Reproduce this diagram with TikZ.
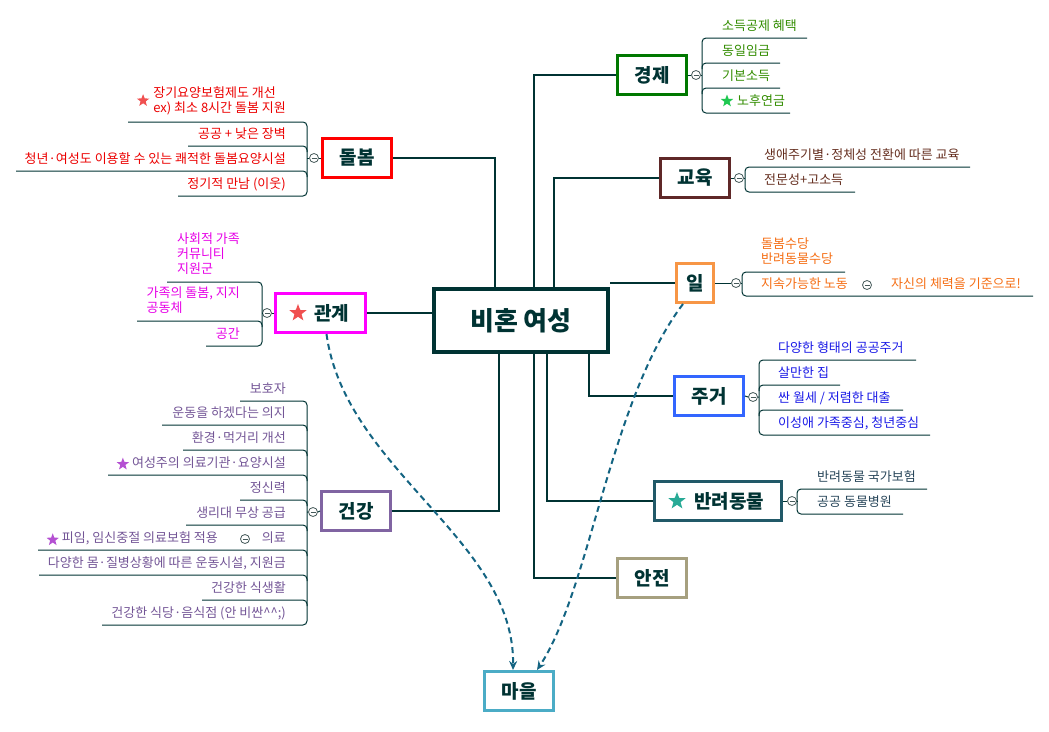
\documentclass[tikz,border=0pt]{standalone}
\usepackage{fontspec}
\setmainfont{Noto Sans CJK KR}
\usetikzlibrary{arrows.meta,shapes.geometric}
\definecolor{linkc}{RGB}{0,51,51}
\definecolor{foldc}{RGB}{70,90,90}
\definecolor{relc}{RGB}{20,100,130}
\definecolor{dolc}{RGB}{255,0,0}
\definecolor{dolt}{RGB}{235,0,0}
\definecolor{gwac}{RGB}{255,0,255}
\definecolor{gwat}{RGB}{230,0,230}
\definecolor{geoc}{RGB}{128,100,162}
\definecolor{geot}{RGB}{115,85,150}
\definecolor{gyec}{RGB}{0,120,0}
\definecolor{gyet}{RGB}{50,140,0}
\definecolor{gyoc}{RGB}{95,40,40}
\definecolor{gyot}{RGB}{100,45,30}
\definecolor{ilc}{RGB}{247,150,70}
\definecolor{ilt}{RGB}{245,110,20}
\definecolor{juc}{RGB}{51,102,255}
\definecolor{jut}{RGB}{25,25,230}
\definecolor{banc}{RGB}{33,89,104}
\definecolor{bant}{RGB}{40,70,90}
\definecolor{anc}{RGB}{166,160,127}
\definecolor{mac}{RGB}{75,172,198}
\definecolor{starr}{RGB}{240,80,80}
\definecolor{starp}{RGB}{180,80,210}
\definecolor{starg}{RGB}{30,200,80}
\definecolor{start}{RGB}{40,170,150}

\begin{document}
\begin{tikzpicture}[x=1pt, y=-1pt, >=Stealth,
  root/.style={draw=linkc, line width=4.5pt, fill=white, text=linkc,
    minimum width=174, minimum height=63, inner sep=0,
    font=\bfseries\fontsize{26}{28}\selectfont},
  topic/.style={line width=3pt, fill=white, text=linkc,
    minimum width=69, minimum height=39, inner sep=0,
    font=\bfseries\fontsize{19}{21}\selectfont},
  sub/.style={inner sep=0, font=\fontsize{13}{15}\selectfont},
  link/.style={draw=linkc, line width=2pt},
  twig/.style={draw=linkc, line width=1pt},
  branch/.style={draw=linkc, line width=1pt, rounded corners=4pt},
  foldmark/.style={circle, draw=foldc, fill=white, line width=0.8pt,
    minimum size=9pt, inner sep=0,
    path picture={\draw[foldc, line width=0.8pt]
      ([xshift=-2.5pt]path picture bounding box.center) --
      ([xshift=2.5pt]path picture bounding box.center);}},
  starmark/.style={star, star points=5, star point ratio=2.4,
    minimum size=13pt, inner sep=0},
  rel/.style={draw=relc, line width=2pt, dash pattern=on 6pt off 4pt,
    -{Stealth[length=9pt, width=8pt]}}]

\useasboundingbox (0,0) rectangle (1049,731);

% Gadi
\node[root] (root) at (521,320.5) {비혼 여성};
\node[topic, draw=dolc] (dolbom) at (357,158) {돌봄};
\node[topic, draw=gwac, minimum width=90] (gwangye) at (320.5,313) {\hspace*{22pt}관계};
\node[starmark, fill=starr, minimum size=18pt] (gwastar) at (298,313) {};
\node[topic, draw=geoc] (geongang) at (356,511) {건강};
\node[topic, draw=gyec] (gyeongje) at (652,75) {경제};
\node[topic, draw=gyoc] (gyoyuk) at (695,178) {교육};
\node[topic, draw=ilc, minimum width=37] (il) at (695,283) {일};
\node[topic, draw=juc] (jugeo) at (709,396) {주거};
\node[topic, draw=banc, minimum width=127] (banryeo) at (718,501) {\hspace*{22pt}반려동물};
\node[starmark, fill=start, minimum size=18pt] (banstar) at (677,501) {};
\node[topic, draw=anc] (anjeon) at (652,578) {안전};
\node[topic, draw=mac] (maeul) at (519,691) {마을};

% Gajimok
\draw[link] (dolbom.east) -| ([xshift=-26pt]root.north);
\draw[link] ([xshift=13pt]root.north) |- (gyeongje.west);
\draw[link] ([xshift=33pt]root.north) |- (gyoyuk.west);
\draw[link] (root.north east |- il.west) -- (il.west);
\draw[link] (root.west |- gwangye.east) -- (gwangye.east);
\draw[link] ([xshift=-22pt]root.south) |- (geongang.east);
\draw[link] ([xshift=13pt]root.south) |- (anjeon.west);
\draw[link] ([xshift=26pt]root.south) |- (banryeo.west);
\draw[link] ([xshift=68pt]root.south) |- (jugeo.west);

% Gwangye -> Maeul, Il -> Maeul
\draw[rel] ([xshift=6pt]gwangye.south) .. controls (345,470) and (515,540) .. ([xshift=-6pt]maeul.north);
\draw[rel] ([xshift=-12pt]il.south) .. controls (610,400) and (590,590) .. ([xshift=18pt]maeul.north);

% Dolbom
\node[foldmark] (dolf) at (314,158) {};
\draw[twig] (dolbom.west) -- (dolf.east) (dolf.west) -- (307,158);
\draw[branch] (128,122) -- (307,122) -- (307,196) -- (178,196);
\foreach \y/\xl in {146/188,171/16}
  \draw[branch] (\xl,\y) -- (307,\y) -- (307,\y+6);
\node[sub, text=dolt, anchor=south east, align=left] (dol1) at (286,115)
  {장기요양보험제도 개선\\ex) 최소 8시간 돌봄 지원};
\node[starmark, fill=starr, xshift=-10pt] (dolstar) at (dol1.west) {};
\foreach \y/\txt [count=\i from 2] in {146/{공공 + 낮은 장벽},
    171/{청년·여성도 이용할 수 있는 쾌적한 돌봄요양시설}, 196/{정기적 만남 (이웃)}}
  \node[sub, text=dolt, anchor=base east] (dol\i) at (286,\y-8) {\txt};

% Gwangye
\node[foldmark] (gwaf) at (267,313) {};
\draw[twig] (gwangye.west) -- (gwaf.east) (gwaf.west) -- (262,313);
\draw[branch] (167,282) -- (262,282) -- (262,346) -- (206,346);
\draw[branch] (137,321) -- (262,321) -- (262,327);
\node[sub, text=gwat, anchor=south east, align=left] (gwa1) at (240,275)
  {사회적 가족\\커뮤니티\\지원군};
\node[sub, text=gwat, anchor=south east, align=left] (gwa2) at (240,314)
  {가족의 돌봄, 지지\\공동체};
\node[sub, text=gwat, anchor=base east] (gwa3) at (240,338) {공간};

% Geongang
\node[foldmark] (geof) at (313,512) {};
\draw[twig] (geongang.west) -- (geof.east) (geof.west) -- (307,512);
\draw[branch] (240,401) -- (307,401) -- (307,625) -- (102,625);
\foreach \y/\xl in {425/162,450/183,475/108,500/240,525/186,550/38,575/39,600/202}
  \draw[branch] (\xl,\y) -- (307,\y) -- (307,\y+6);
\foreach \y/\txt [count=\i] in {401/보호자, 425/{운동을 하겠다는 의지},
    450/{환경·먹거리 개선}, 475/{여성주의 의료기관·요양시설}, 500/정신력,
    525/{생리대 무상 공급}, 550/의료, 575/{다양한 몸·질병상황에 따른 운동시설, 지원금},
    600/{건강한 식생활}, 625/{건강한 식당·음식점 (안 비싼\textasciicircum\textasciicircum;)}}
  \node[sub, text=geot, anchor=base east] (geo\i) at (286,\y-8) {\txt};
\node[starmark, fill=starp, xshift=-9pt, yshift=-2pt] (geostar1) at (geo4.west) {};
\node[foldmark] (geof2) at (245,539) {};
\node[sub, text=geot, anchor=base east] (geo11) at (218,542) {피임, 임신중절 의료보험 적용};
\node[starmark, fill=starp, xshift=-9pt, yshift=-2pt] (geostar2) at (geo11.west) {};

% Gyeongje
\node[foldmark] (gyef) at (696,75) {};
\draw[twig] (gyeongje.east) -- (gyef.west) (gyef.east) -- (702,75);
\draw[branch] (807,38) -- (702,38) -- (702,113) -- (790,113);
\foreach \y/\xr in {63/780,88/780}
  \draw[branch] (\xr,\y) -- (702,\y) -- (702,\y+6);
\foreach \y/\txt [count=\i] in {38/{소득공제 혜택}, 63/동일임금, 88/기본소득}
  \node[sub, text=gyet, anchor=base west] (gye\i) at (722,\y-8) {\txt};
\node[sub, text=gyet, anchor=base west] (gye4) at (737,105) {노후연금};
\node[starmark, fill=starg] (gyestar) at (727,101) {};

% Gyoyuk
\node[foldmark] (gyof) at (739,178) {};
\draw[twig] (gyoyuk.east) -- (gyof.west) (gyof.east) -- (745,178);
\draw[branch] (970,167) -- (745,167) -- (745,192) -- (855,192);
\node[sub, text=gyot, anchor=base west] (gyo1) at (764,159) {생애주기별·정체성 전환에 따른 교육};
\node[sub, text=gyot, anchor=base west] (gyo2) at (764,184) {전문성+고소득};

% Il
\node[foldmark] (ilf) at (736,283) {};
\draw[twig] (il.east) -- (ilf.west) (ilf.east) -- (742,283);
\draw[branch] (845,272) -- (742,272) -- (742,296) -- (1033,296);
\node[sub, text=ilt, anchor=south west, align=left] (il1) at (761,265) {돌봄수당\\반려동물수당};
\node[sub, text=ilt, anchor=base west] (il2) at (761,288) {지속가능한 노동};
\node[foldmark] (ilf2) at (867,285) {};
\node[sub, text=ilt, anchor=base west] (il3) at (891,288) {자신의 체력을 기준으로!};

% Jugeo
\node[foldmark] (juf) at (753,397) {};
\draw[twig] (jugeo.east) -- (juf.west) (juf.east) -- (759,397);
\draw[branch] (916,360) -- (759,360) -- (759,435) -- (930,435);
\foreach \y/\xr in {385/840,410/903}
  \draw[branch] (\xr,\y) -- (759,\y) -- (759,\y+6);
\foreach \y/\txt [count=\i] in {360/{다양한 형태의 공공주거}, 385/{살만한 집},
    410/{싼 월세 / 저렴한 대출}, 435/{이성애 가족중심, 청년중심}}
  \node[sub, text=jut, anchor=base west] (ju\i) at (778,\y-8) {\txt};

% Banryeo
\node[foldmark] (banf) at (792,501) {};
\draw[twig] (banryeo.east) -- (banf.west) (banf.east) -- (797,501);
\draw[branch] (927,489) -- (797,489) -- (797,514) -- (903,514);
\node[sub, text=bant, anchor=base west] (ban1) at (817,481) {반려동물 국가보험};
\node[sub, text=bant, anchor=base west] (ban2) at (817,506) {공공 동물병원};

\end{tikzpicture}
\end{document}
